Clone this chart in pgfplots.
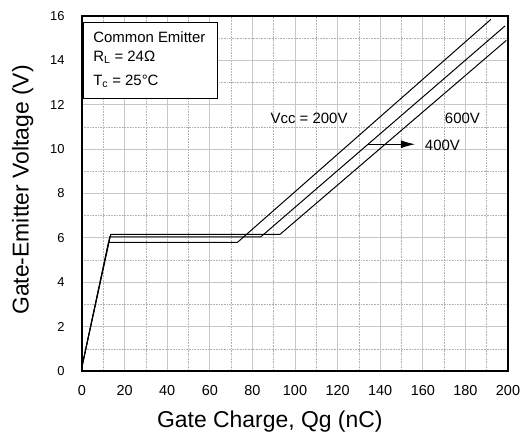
\documentclass[border=0pt]{standalone}
\usepackage{fontspec}
\setmainfont{Liberation Sans}
\usepackage{pgfplots}
\pgfplotsset{compat=1.18}
\usetikzlibrary{arrows.meta}
\begin{document}
\begin{tikzpicture}[x=1bp,y=1bp]
\useasboundingbox (-82,-63) rectangle (440,371);
\begin{axis}[
  at={(0,0)}, anchor=origin,
  scale only axis, width=426bp, height=355bp,
  xmin=0, xmax=200, ymin=0, ymax=16,
  xtick={0,20,...,200}, ytick={0,2,...,16},
  minor xtick={10,30,...,190}, minor ytick={1,3,...,15},
  grid=both,
  major grid style={line width=0.9pt, draw=black!22},
  minor grid style={line width=0.6pt, draw=black!30, densely dotted},
  axis line style={line width=2.6pt},
  tick style={draw=none},
  /pgf/number format/assume math mode=true,
  xticklabel style={font=\fontsize{14.5}{16}\selectfont, yshift=-11bp},
  yticklabel style={font=\fontsize{13}{15}\selectfont, xshift=-14bp},
  xlabel={Gate Charge, Qg (nC)},
  ylabel={Gate-Emitter Voltage (V)},
  label style={font=\fontsize{23}{26}\selectfont},
  xlabel style={at={(axis description cs:0.441,-0.158)}, anchor=base},
  ylabel style={at={(axis description cs:-0.139,0.51)}, anchor=center},
  clip=false,
]
\addplot[black, line width=1pt] coordinates {(0,0.2) (12.5,5.8) (73,5.8) (192,15.85)};
\addplot[black, line width=1pt] coordinates {(0,0.2) (13,6.05) (84,6.05) (198.6,15.55)};
\addplot[black, line width=1pt] coordinates {(0,0.2) (13.5,6.16) (93,6.16) (199.2,14.9)};
\fill[white] (axis cs:0.8,15.72) rectangle (axis cs:63.4,12.3);
\draw[line width=0.9pt] (axis cs:0.8,15.72) rectangle (axis cs:63.4,12.3);
\node[anchor=base west, font=\fontsize{15}{17}\selectfont, inner sep=0] at (axis cs:5.2,14.82) {Common Emitter};
\node[anchor=base west, font=\fontsize{15}{17}\selectfont, inner sep=0] at (axis cs:5.2,13.96) {R\textsubscript{L} = 24Ω};
\node[anchor=base west, font=\fontsize{15}{17}\selectfont, inner sep=0] at (axis cs:5.2,12.88) {T\textsubscript{c} = 25°C};
\node[anchor=base, font=\fontsize{15}{17}\selectfont, inner sep=0] at (axis cs:106.6,11.17) {Vcc = 200V};
\node[anchor=base, font=\fontsize{15}{17}\selectfont, inner sep=0] at (axis cs:178.6,11.17) {600V};
\node[anchor=base, font=\fontsize{15}{17}\selectfont, inner sep=0] at (axis cs:169.2,9.95) {400V};
\draw[line width=0.9pt, -{Latex[length=14bp,width=8bp]}] (axis cs:134.3,10.22) -- (axis cs:156.3,10.22);
\end{axis}
\end{tikzpicture}
\end{document}
